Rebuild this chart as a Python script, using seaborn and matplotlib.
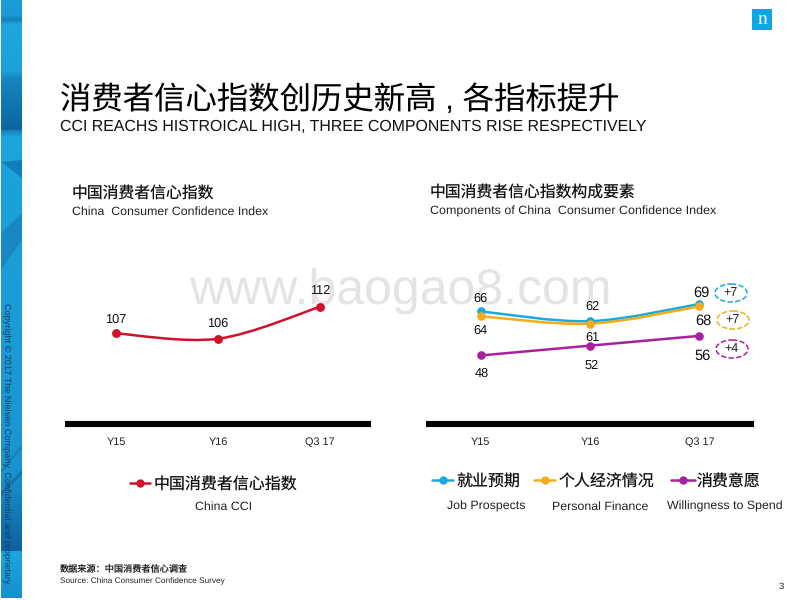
import numpy as np
import pandas as pd
import matplotlib.pyplot as plt
import seaborn as sns
from matplotlib.colors import LinearSegmentedColormap
from matplotlib.lines import Line2D
from matplotlib.patches import Ellipse, PathPatch, Polygon, Rectangle
from matplotlib.path import Path

# -----------------------------
# Data
# -----------------------------
periods = ["Y15", "Y16", "Q3 17"]
cci_values = [107, 106, 112]
job_prospects = [66, 62, 69]
personal_finance = [64, 61, 68]
willingness = [48, 52, 56]
changes = ["+7", "+7", "+4"]

RED = "#d0112b"
BLUE = "#1ba9df"
ORANGE = "#f5ab1b"
PURPLE = "#a8219c"

sns.set_theme(style="white")
plt.rcParams["font.family"] = ["Liberation Sans", "Noto Sans CJK SC", "DejaVu Sans"]
plt.rcParams["text.hinting"] = "no_hinting"


def long_table(series):
    rows = []
    for name, values in series.items():
        for period, value in zip(periods, values):
            rows.append({"period": period, "value": value, "series": name})
    return pd.DataFrame(rows)


def smooth_line(ax, values, color):
    # bezier through the points, like the smoothed lines in the original
    pts = np.column_stack([np.arange(len(values)), values]).astype(float)
    verts = [pts[0]]
    codes = [Path.MOVETO]
    for i in range(len(pts) - 1):
        before = pts[max(i - 1, 0)]
        after = pts[min(i + 2, len(pts) - 1)]
        verts += [pts[i] + (pts[i + 1] - before) / 6, pts[i + 1] - (after - pts[i]) / 6, pts[i + 1]]
        codes += [Path.CURVE4] * 3
    ax.add_patch(PathPatch(Path(verts, codes), fill=False, edgecolor=color, lw=1.8, zorder=2))


def setup_axes(ax, ylim):
    ax.set_xlim(-0.5, 2.5)
    ax.set_ylim(*ylim)
    ax.patch.set_alpha(0)
    ax.set_xlabel("")
    ax.set_ylabel("")
    ax.set_yticks([])
    ax.set_xticks(range(len(periods)))
    ax.set_xticklabels(periods, fontsize=7.8, color="#222222")
    ax.tick_params(axis="x", length=0, pad=9.5)
    sns.despine(ax=ax, left=True)
    ax.spines["bottom"].set_linewidth(4.4)
    ax.spines["bottom"].set_color("black")
    ax.spines["bottom"].set_capstyle("butt")


def value_labels(ax, values, offsets, sizes=None):
    for i, (value, off) in enumerate(zip(values, offsets)):
        size = sizes[i] if sizes else 9.2
        ax.annotate(str(value), (i, value), xytext=off, textcoords="offset pixels",
                    ha="center", va="center", fontsize=size, color="#111111", zorder=5)


fig = plt.figure(figsize=(8, 6), dpi=100)

# -----------------------------
# Slide background (pixel coords)
# -----------------------------
bg = fig.add_axes([0, 0, 1, 1], zorder=0)

stops = [(0, "#1b9ed7"), (15, "#1a9ad4"), (19, "#117fb8"), (24, "#1fa6e0"), (70, "#1ba2dc"),
         (78, "#1587c2"), (129, "#0c659f"), (130, "#1680ba"), (137, "#1ca6e0"), (160, "#1aa3dd"),
         (470, "#1a94d0"), (551, "#0c62a0"), (552, "#1ca6e0"), (598, "#1690cc")]
side_cmap = LinearSegmentedColormap.from_list("side", [(y / 598, c) for y, c in stops], N=598)
bg.imshow(np.linspace(0, 1, 598).reshape(-1, 1), cmap=side_cmap, aspect="auto", extent=(1, 22, 598, 0), zorder=1)
bg.set_xlim(0, 800)
bg.set_ylim(600, 0)
bg.axis("off")
bg.add_patch(Polygon([(1, 162), (22, 160), (22, 178)], color="#127fba", lw=0, zorder=2))
bg.add_patch(Polygon([(1, 233), (22, 213), (22, 240), (1, 270)], color="#1788c4", lw=0, zorder=2))
bg.add_patch(Polygon([(1, 470), (22, 445), (22, 448), (1, 473)], color="#1680bb", lw=0, zorder=2))
bg.add_patch(Polygon([(1, 492), (22, 470), (22, 474), (1, 497)], color="#1274ae", lw=0, zorder=2))
bg.text(6.5, 444, "Copyright © 2017 The Nielsen Company. Confidential and proprietary.", rotation=270,
        fontsize=6.6, color="#123a66", ha="center", va="center", zorder=3)

bg.add_patch(Rectangle((752, 9), 20, 21, color="#12a5e6", lw=0))
bg.text(762, 24.5, "n", fontsize=14, family="Liberation Serif", color="white", ha="center", va="baseline")

bg.text(400, 304, "www.baogao8.com", fontsize=36, color="#e4e4e4", ha="center", va="baseline", zorder=1)

bg.text(60, 109, "消费者信心指数创历史新高 , 各指标提升", fontsize=22.6, color="black", va="baseline")
bg.text(60, 131, "CCI REACHS HISTROICAL HIGH, THREE COMPONENTS RISE RESPECTIVELY", fontsize=11.42,
        color="#111111", va="baseline")

bg.text(72, 198, "中国消费者信心指数", fontsize=11.4, color="#111111", va="baseline")
bg.text(72, 215, "China  Consumer Confidence Index", fontsize=8.88, color="#222222", va="baseline")
bg.text(430, 198, "中国消费者信心指数构成要素", fontsize=11.4, color="#111111", va="baseline")
bg.text(430, 215, "Components of China  Consumer Confidence Index", fontsize=8.98, color="#222222", va="baseline")

bg.text(60, 571, "数据来源：中国消费者信心调查", fontsize=6.6, color="#222222", va="baseline")
bg.text(60, 583, "Source: China Consumer Confidence Survey", fontsize=5.95, color="#222222", va="baseline")
bg.text(781, 589, "3", fontsize=6.8, color="#222222", ha="center", va="baseline")

# -----------------------------
# Left chart
# -----------------------------
ax1 = fig.add_axes([65 / 800, 1 - 424 / 600, 306 / 800, 154 / 600], zorder=1)
sns.lineplot(data=long_table({"China CCI": cci_values}), x="period", y="value", hue="series",
             palette=[RED], marker="o", markersize=6.4, markeredgewidth=0, linewidth=0,
             legend=False, sort=False, ax=ax1, zorder=3)
smooth_line(ax1, cci_values, RED)
setup_axes(ax1, (90, 118.9))
value_labels(ax1, cci_values, [(0, 14), (0, 15), (0, 16)])

# -----------------------------
# Right chart
# -----------------------------
ax2 = fig.add_axes([426 / 800, 1 - 424 / 600, 328 / 800, 154 / 600], zorder=1)
components = {"Job Prospects": job_prospects, "Personal Finance": personal_finance, "Willingness to Spend": willingness}
sns.lineplot(data=long_table(components), x="period", y="value", hue="series",
             palette=[BLUE, ORANGE, PURPLE], marker="o", markersize=6.2, markeredgewidth=0, linewidth=0,
             legend=False, sort=False, ax=ax2, zorder=3)
for values, color in zip(components.values(), [BLUE, ORANGE, PURPLE]):
    smooth_line(ax2, values, color)
setup_axes(ax2, (20, 82.9))
value_labels(ax2, job_prospects, [(0, 13), (2, 15), (2, 11)], sizes=[9.2, 9.2, 10.5])
value_labels(ax2, personal_finance, [(0, -14), (2, -14), (4, -14)], sizes=[9.2, 9.2, 10.5])
value_labels(ax2, willingness, [(1, -18), (2, -20), (3, -20)], sizes=[9.2, 9.2, 10.5])

# change badges
fg = fig.add_axes([0, 0, 1, 1], zorder=2)
fg.set_xlim(0, 800)
fg.set_ylim(600, 0)
fg.axis("off")
for change, color, cx, cy in zip(changes, [BLUE, ORANGE, PURPLE], [731, 733, 732], [293, 320, 349]):
    fg.add_patch(Ellipse((cx, cy), 32, 18, fill=False, edgecolor=color, lw=1.1, linestyle=(0, (3.5, 1.5))))
    fg.text(cx, cy, change, fontsize=9, color="#222222", ha="center", va="center")

# -----------------------------
# Legends
# -----------------------------
legend_items = [
    (130, 150, 483, RED, "中国消费者信心指数", 154, "China CCI", 224),
    (432, 453, 480, BLUE, "就业预期", 456, "Job Prospects", 486),
    (534, 555, 480, ORANGE, "个人经济情况", 559, "Personal Finance", 600),
    (671, 695, 480, PURPLE, "消费意愿", 697, "Willingness to Spend", 725),
]
for x0, x1, y, color, cn, cn_x, en, en_x in legend_items:
    fg.add_line(Line2D([x0, x1], [y, y], color=color, lw=1.8))
    fg.add_line(Line2D([(x0 + x1) / 2], [y], color=color, marker="o", markersize=6, markeredgewidth=0))
    fg.text(cn_x, y + 6.5, cn, fontsize=11.5, color="#111111", va="baseline")
    fg.text(en_x, 510, en, fontsize=8.95, color="#222222", ha="center", va="baseline")

fig.savefig("out.png", dpi=100, facecolor="white")
